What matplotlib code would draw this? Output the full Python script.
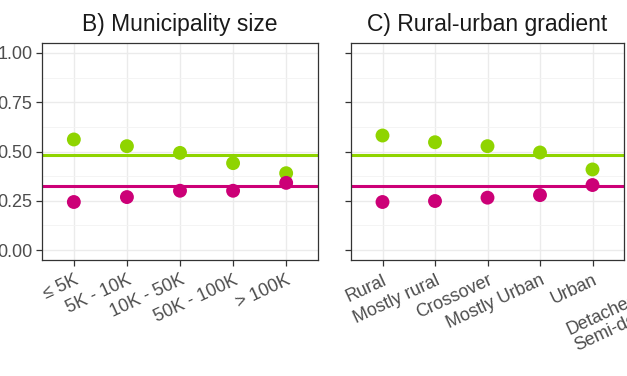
import matplotlib
matplotlib.use("Agg")
import matplotlib.pyplot as plt
from matplotlib.ticker import MultipleLocator

plt.rcParams['font.family'] = ['Liberation Sans', 'DejaVu Sans']

# Data
size_cats = ["≤ 5K", "5K - 10K", "10K - 50K", "50K - 100K", "> 100K"]
size_green = [0.561, 0.527, 0.493, 0.441, 0.390]
size_magenta = [0.244, 0.269, 0.301, 0.301, 0.341]

ru_cats = ["Rural", "Mostly rural", "Crossover", "Mostly Urban", "Urban"]
ru_green = [0.581, 0.547, 0.527, 0.495, 0.409]
ru_magenta = [0.244, 0.249, 0.266, 0.279, 0.330]

green_mean = 0.480
magenta_mean = 0.323

yticks = [0.00, 0.25, 0.50, 0.75, 1.00]
ytick_labels = ["0.00", "0.25", "0.50", "0.75", "1.00"]
titles = ["B) Municipality size", "C) Rural-urban gradient"]
next_panel_label = "Detached\nSemi-detached"

GREEN = "#8FD400"
MAGENTA = "#CC0077"

W, H = 627, 376
fig = plt.figure(figsize=(W / 100, H / 100), dpi=100)

def px_axes(l, r, t, b):
    return fig.add_axes([l / W, 1 - b / H, (r - l) / W, (b - t) / H])

axB = px_axes(42, 318, 43, 260)
axC = px_axes(351, 624, 43, 260)

for ax, cats, g, m, title, showy in [
    (axB, size_cats, size_green, size_magenta, titles[0], True),
    (axC, ru_cats, ru_green, ru_magenta, titles[1], False),
]:
    x = list(range(len(cats)))
    ax.set_xlim(-0.6, len(cats) - 0.4)
    ax.set_ylim(-0.05, 1.05)
    ax.yaxis.set_minor_locator(MultipleLocator(0.125))
    ax.set_yticks(yticks)
    ax.set_yticklabels(ytick_labels if showy else [])
    ax.set_xticks(x)
    ax.grid(True, which='major', color='#EBEBEB', lw=1.0, zorder=0)
    ax.grid(True, which='minor', axis='y', color='#F3F3F3', lw=0.6, zorder=0)
    ax.set_axisbelow(True)
    ax.tick_params(axis='both', which='major', length=4, width=0.9,
                   color='#333333', labelcolor='#4D4D4D', labelsize=13, pad=3)
    ax.tick_params(axis='x', which='major', pad=4.5)
    ax.tick_params(axis='y', which='minor', length=0)
    ax.set_xticklabels(cats, rotation=25, ha='right', va='top',
                       rotation_mode='anchor')
    for s in ax.spines.values():
        s.set_color('#333333')
        s.set_linewidth(0.9)
    ax.axhline(green_mean, color=GREEN, lw=2.2, zorder=2)
    ax.axhline(magenta_mean, color=MAGENTA, lw=2.2, zorder=2)
    ax.scatter(x, g, s=100, color=GREEN, edgecolors='none', zorder=3)
    ax.scatter(x, m, s=100, color=MAGENTA, edgecolors='none', zorder=4)
    ax.set_title(title, fontsize=16.5, color='#1A1A1A', pad=9)

fig.text(577 / W, 1 - 350 / H, next_panel_label, rotation=25,
         rotation_mode='anchor', ha='left', va='baseline',
         multialignment='left', linespacing=1.05,
         fontsize=13, color='#4D4D4D')

fig.savefig("out.png", dpi=100, facecolor='white')
